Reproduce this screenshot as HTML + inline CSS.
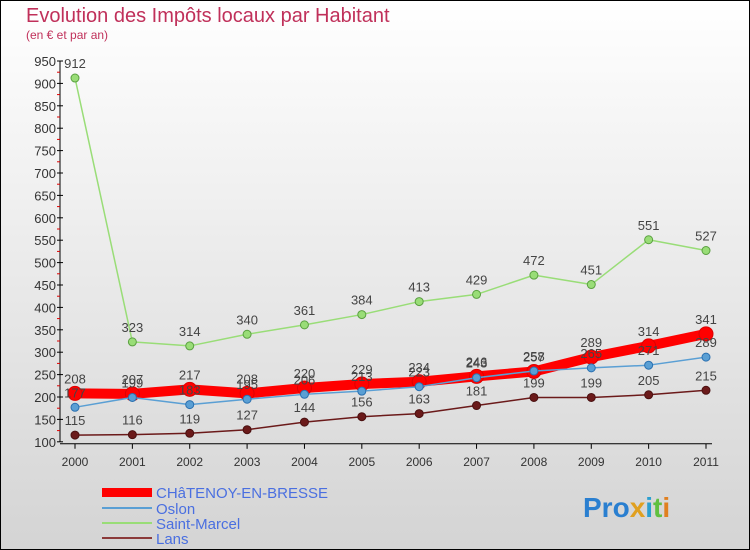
<!DOCTYPE html>
<html><head><meta charset="utf-8"><style>
body{margin:0;}
#c{width:750px;height:550px;position:relative;overflow:hidden;font-family:"Liberation Sans",sans-serif;}
</style></head><body>
<div id="c">
<svg id="s" width="750" height="550" xmlns="http://www.w3.org/2000/svg">
<defs><linearGradient id="bg" x1="0" y1="0" x2="0" y2="1"><stop offset="0" stop-color="#ffffff"/><stop offset="1" stop-color="#d4d4d4"/></linearGradient></defs>
<rect x="0.5" y="0.5" width="749" height="549" fill="url(#bg)" stroke="#000"/>
<text x="26" y="22" font-size="20" fill="#c0305a">Evolution des Impôts locaux par Habitant</text>
<text x="26" y="39" font-size="12" fill="#c0305a">(en € et par an)</text>
<g id="axes"></g><g id="series"></g>
<g>
<rect x="102" y="488" width="50" height="9" fill="#ff0000"/>
<text x="156" y="498" font-size="15" fill="#4a6fe0">CHâTENOY-EN-BRESSE</text>
<rect x="102" y="507" width="50" height="2" fill="#5a9fd4"/>
<text x="156" y="514" font-size="15" fill="#4a6fe0">Oslon</text>
<rect x="102" y="522" width="50" height="2" fill="#99dd77"/>
<text x="156" y="529" font-size="15" fill="#4a6fe0">Saint-Marcel</text>
<rect x="102" y="537" width="50" height="2" fill="#8b3a3a"/>
<text x="156" y="544" font-size="15" fill="#4a6fe0">Lans</text>
</g>
<g font-size="28" font-weight="bold">
<text x="583" y="517"><tspan fill="#2a7fd0">Pro</tspan><tspan fill="#e0a020">x</tspan><tspan fill="#2a9fd0">i</tspan><tspan fill="#60c040">t</tspan><tspan fill="#e08020">i</tspan></text>
</g>
</svg>
</div>
<script>
const years=["2000","2001","2002","2003","2004","2005","2006","2007","2008","2009","2010","2011"];
const chatenoy=[208,207,217,208,220,229,234,246,257,289,314,341];
const oslon=[177,199,183,195,206,213,223,243,258,265,271,289];
const saintMarcel=[912,323,314,340,361,384,413,429,472,451,551,527];
const lans=[115,116,119,127,144,156,163,181,199,199,205,215];
const yTicks=[100,150,200,250,300,350,400,450,500,550,600,650,700,750,800,850,900,950];
const NS="http://www.w3.org/2000/svg";
function X(i){return 75+i*(706-75)/11;}
function Y(v){return 441.8-(v-100)*(441.8-61)/850;}
function mk(t,a,p){const e=document.createElementNS(NS,t);for(const k in a)e.setAttribute(k,a[k]);p.appendChild(e);return e;}
const ax=document.getElementById('axes'),sg=document.getElementById('series');
const yl=mk('line',{x1:60,y1:Y(950),x2:60,y2:Y(100),stroke:'#000'},ax);


const xl=mk('line',{x1:60,y1:Y(100)+2,x2:712,y2:Y(100)+2,stroke:'#000'},ax);


yTicks.forEach((v,i)=>{
  mk('line',{x1:57,y1:Y(v),x2:63,y2:Y(v),stroke:'#000'},ax);
  if(i<yTicks.length-1)mk('line',{x1:57,y1:Y(v+25),x2:60,y2:Y(v+25),stroke:'#d00'},ax);
  const t=mk('text',{x:56,y:Y(v)+5,'text-anchor':'end','font-size':13,fill:'#333'},ax);
  t.textContent=v;
  
  
});
years.forEach((y,i)=>{
  mk('line',{x1:X(i),y1:Y(100)+2,x2:X(i),y2:Y(100)+7,stroke:'#000'},ax);
  const t=mk('text',{x:X(i),y:466,'text-anchor':'middle','font-size':12,fill:'#333'},ax);
  t.textContent=y;
  
  
});
function series(data,name,color,w,r,stroke){
  const g=mk('g',{},sg);
  
  
  const l=mk('polyline',{points:data.map((v,i)=>X(i)+','+Y(v)).join(' '),fill:'none',stroke:color,'stroke-width':w,'stroke-linejoin':'round'},g);
  
  
  data.forEach((v,i)=>{
    const c=mk('circle',{cx:X(i),cy:Y(v),r:r,fill:color,stroke:stroke,'stroke-width':1},g);
    
    
    const t=mk('text',{x:X(i),y:Y(v)-10,'text-anchor':'middle','font-size':13,fill:'#444'},g);
    t.textContent=v;
    
    
  });
}
series(lans,'lans','#6b1a1a',1.5,4,'#4a1010');
series(saintMarcel,'saint-marcel','#99dd77',1.5,4,'#5aa040');
series(chatenoy,'chatenoy','#ff0000',10,7,'#dd0000');
series(oslon,'oslon','#5a9fd4',1.5,4,'#2a70b0');
</script>
</body></html>
